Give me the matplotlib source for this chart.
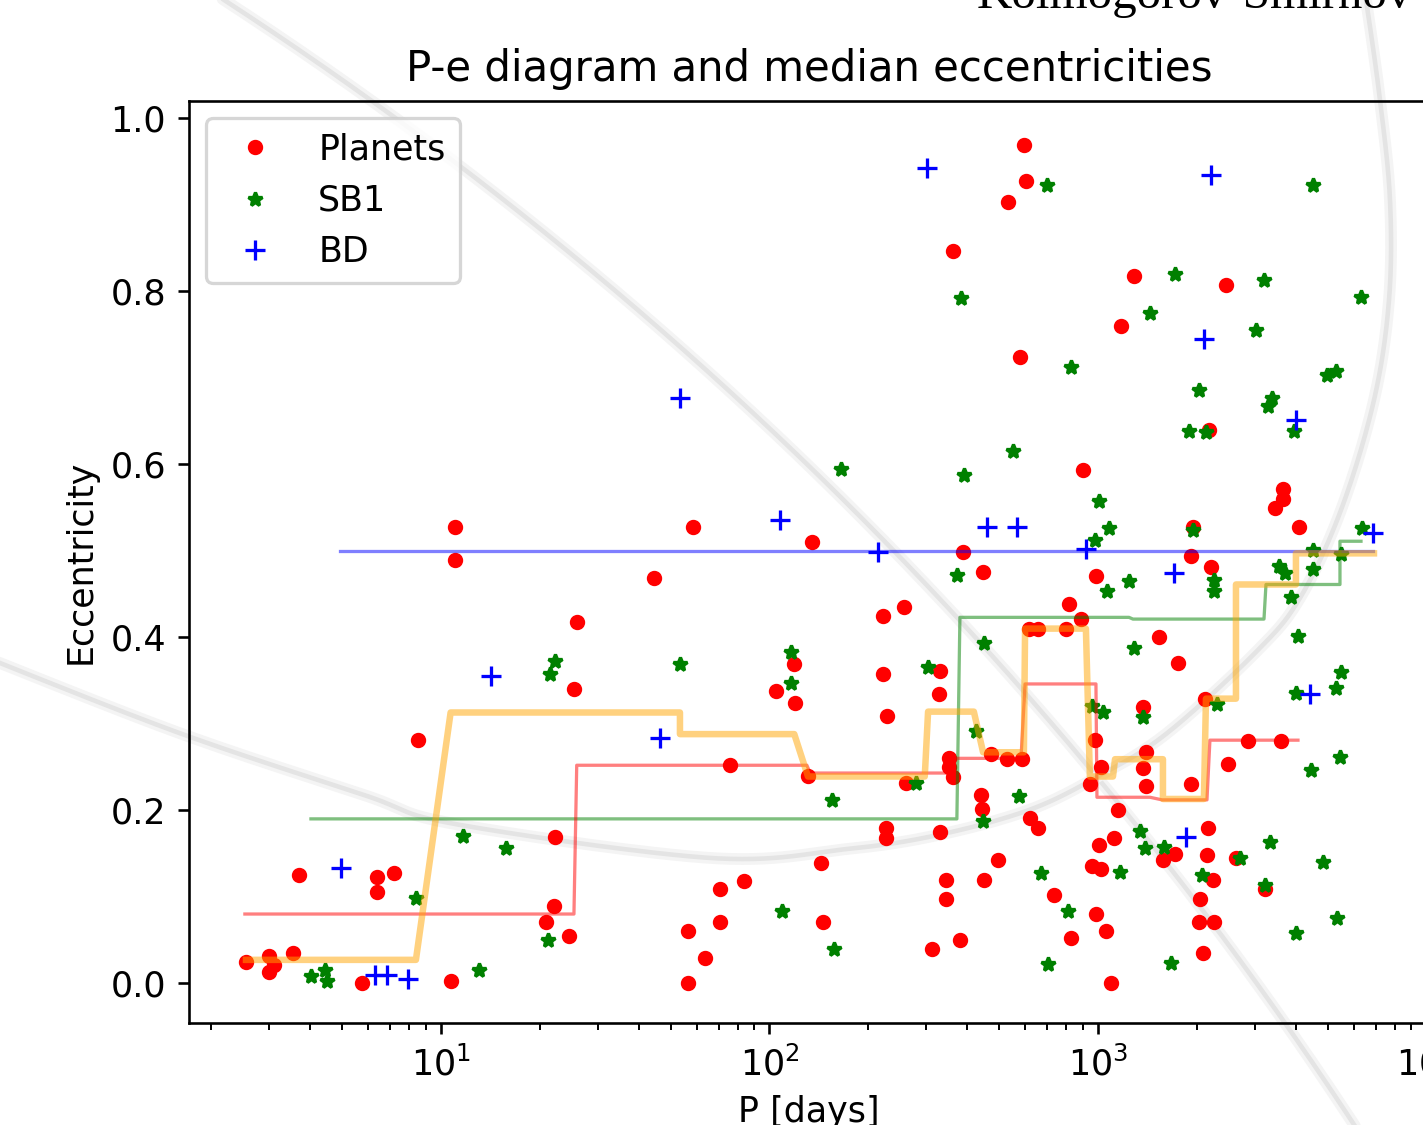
"""P-e diagram of planets, SB1 and brown dwarfs with running median eccentricities."""

import matplotlib
matplotlib.use("Agg")
import matplotlib.pyplot as plt
import numpy as np

DPI = 235
W_PX, H_PX = 1423, 1125

plt.rcParams["font.size"] = 10.7

# ---------------------------------------------------------------------------
# Data: period P [days] and eccentricity e
# ---------------------------------------------------------------------------

planets_P = [2.55, 2.99, 2.99, 3.10, 3.54, 3.70, 5.75, 6.39, 6.39, 7.19,
             8.51, 10.7, 11.0, 11.0, 20.9, 22.1, 22.2, 24.5, 25.4, 25.9,
             44.5, 56.5, 56.5, 58.5, 63.6, 70.7, 70.7, 75.8, 83.6, 105,
             119, 120, 131, 135, 144, 146, 222, 257, 222, 228,
             226, 226, 260, 312, 330, 328, 330, 344, 344, 352,
             352, 362, 362, 380, 388, 447, 440, 443, 450, 472,
             496, 528, 532, 579, 587, 595, 604, 617, 657, 621,
             657, 735, 799, 816, 828, 888, 900, 945, 979, 986,
             986, 1007, 1021, 959, 1021, 1058, 1095, 1119, 1151, 1175,
             1287, 1371, 1400, 1371, 1400, 1534, 1577, 1716, 1752, 1919,
             1946, 1919, 2029, 2044, 2087, 2117, 2162, 2147, 2177, 2208,
             2239, 2255, 2453, 2488, 2631, 2862, 3224, 3458, 3658, 3658,
             3607, 4091]
planets_e = [0.024, 0.032, 0.013, 0.021, 0.035, 0.125, 0.0, 0.123, 0.106, 0.128,
             0.281, 0.002, 0.528, 0.489, 0.071, 0.089, 0.169, 0.055, 0.340, 0.418,
             0.468, 0.060, 0.0, 0.528, 0.029, 0.109, 0.071, 0.252, 0.118, 0.338,
             0.369, 0.324, 0.239, 0.510, 0.139, 0.071, 0.424, 0.435, 0.358, 0.309,
             0.180, 0.168, 0.232, 0.039, 0.361, 0.334, 0.175, 0.119, 0.097, 0.260,
             0.250, 0.238, 0.846, 0.050, 0.499, 0.475, 0.218, 0.202, 0.119, 0.265,
             0.143, 0.259, 0.903, 0.724, 0.259, 0.969, 0.928, 0.409, 0.409, 0.191,
             0.179, 0.102, 0.409, 0.439, 0.052, 0.421, 0.593, 0.230, 0.281, 0.471,
             0.080, 0.160, 0.250, 0.136, 0.132, 0.060, 0.0, 0.168, 0.200, 0.760,
             0.818, 0.319, 0.267, 0.249, 0.228, 0.400, 0.143, 0.149, 0.370, 0.230,
             0.528, 0.494, 0.071, 0.097, 0.035, 0.329, 0.179, 0.148, 0.640, 0.481,
             0.119, 0.071, 0.807, 0.253, 0.145, 0.280, 0.109, 0.549, 0.560, 0.571,
             0.280, 0.528]

sb1_P = [4.02, 4.44, 4.50, 8.39, 11.7, 13.1, 15.8, 21.2, 21.5, 22.2,
         53.4, 109, 116, 116, 155, 157, 165, 279, 304, 372,
         383, 391, 425, 447, 450, 551, 575, 671, 699, 704,
         810, 828, 959, 1036, 979, 1007, 1080, 1065, 1243, 1287,
         1343, 1391, 1371, 1440, 1167, 1588, 1668, 1716, 1892, 2029,
         1946, 2073, 2132, 2255, 2255, 2303, 2706, 3027, 3202, 3224,
         3293, 3386, 3339, 3556, 3709, 3868, 3951, 4063, 4006, 4006,
         4449, 4512, 4512, 4512, 4841, 4979, 5303, 5303, 5340, 5454,
         5492, 5492, 6320, 6365]
sb1_e = [0.008, 0.015, 0.002, 0.099, 0.170, 0.015, 0.156, 0.050, 0.358, 0.373,
         0.369, 0.084, 0.383, 0.347, 0.212, 0.039, 0.595, 0.232, 0.366, 0.472,
         0.792, 0.588, 0.292, 0.188, 0.393, 0.615, 0.216, 0.128, 0.923, 0.022,
         0.084, 0.713, 0.320, 0.313, 0.512, 0.557, 0.526, 0.453, 0.465, 0.388,
         0.176, 0.156, 0.308, 0.775, 0.129, 0.157, 0.023, 0.820, 0.638, 0.686,
         0.524, 0.125, 0.637, 0.466, 0.454, 0.323, 0.145, 0.755, 0.813, 0.114,
         0.667, 0.677, 0.163, 0.482, 0.474, 0.447, 0.638, 0.401, 0.336, 0.058,
         0.246, 0.923, 0.501, 0.479, 0.140, 0.703, 0.708, 0.341, 0.075, 0.262,
         0.360, 0.496, 0.793, 0.526]

bd_P = [4.96, 6.30, 6.85, 7.93, 14.2, 46.4, 53.4, 108, 214, 302,
        459, 567, 919, 1704, 1853, 2102, 2208, 4006, 4418, 6872]
bd_e = [0.133, 0.009, 0.010, 0.005, 0.355, 0.284, 0.677, 0.536, 0.498, 0.942,
        0.528, 0.528, 0.502, 0.474, 0.169, 0.745, 0.935, 0.651, 0.334, 0.520]

# running medians (vertices of the step curves)
all_med_P = [2.55, 8.39, 10.7, 53.4, 53.4, 119, 131, 297, 304, 419, 447, 595, 600,
             919, 945, 1111, 1127, 1577, 1577, 2102, 2132, 2631, 2631, 4006, 4006, 6921]
all_med_e = [0.027, 0.027, 0.313, 0.313, 0.288, 0.288, 0.239, 0.239, 0.314, 0.314,
             0.267, 0.267, 0.410, 0.410, 0.239, 0.239, 0.259, 0.259, 0.213, 0.213,
             0.329, 0.329, 0.461, 0.461, 0.497, 0.497]

pl_med_P = [2.53, 25.4, 25.9, 130, 133, 347, 372, 583, 600, 986, 993, 1440,
            1566, 2147, 2192, 4063]
pl_med_e = [0.080, 0.080, 0.252, 0.252, 0.243, 0.243, 0.260, 0.260, 0.346, 0.346,
            0.215, 0.215, 0.212, 0.212, 0.281, 0.281]

sb1_med_P = [4.02, 372, 380, 1243, 1278, 3202, 3247, 5454, 5454, 6320]
sb1_med_e = [0.190, 0.190, 0.423, 0.423, 0.421, 0.421, 0.461, 0.461, 0.511, 0.511]

bd_med_P = [4.93, 6872]
bd_med_e = [0.5, 0.5]


# ---------------------------------------------------------------------------
# Faint background arcs (page watermark), in figure pixel coordinates
# ---------------------------------------------------------------------------

def smooth_curve(pts, n=30):
    """Catmull-Rom spline through a list of (x, y) points."""
    pts = np.asarray(pts, float)
    pts = np.vstack([pts[0], pts, pts[-1]])
    t = np.linspace(0, 1, n)[:, None]
    out = []
    for i in range(1, len(pts) - 2):
        p0, p1, p2, p3 = pts[i - 1], pts[i], pts[i + 1], pts[i + 2]
        seg = 0.5 * (2 * p1 + (-p0 + p2) * t
                     + (2 * p0 - 5 * p1 + 4 * p2 - p3) * t ** 2
                     + (-p0 + 3 * p1 - 3 * p2 + p3) * t ** 3)
        out.append(seg)
    return np.vstack(out)


def draw_watermark(fig):
    bg = fig.add_axes([0, 0, 1, 1], zorder=0)
    bg.set_xlim(0, W_PX)
    bg.set_ylim(H_PX, 0)
    bg.axis("off")

    # big diagonal arc
    t = np.radians(np.linspace(-58, -31, 300))
    arc_x = -1894 + 3886 * np.cos(t)
    arc_y = 3258 + 3886 * np.sin(t)

    # lower sweep rising on the right
    sweep = smooth_curve([(-30, 650), (0, 663), (182, 734), (364, 795), (455, 824),
                          (711, 858), (847, 849), (938, 835), (1029, 810),
                          (1097, 777), (1166, 734), (1256, 652), (1300, 598),
                          (1341, 510), (1374, 400), (1389, 300), (1390, 200),
                          (1380, 100), (1366, 0), (1360, -30)])

    for xs, ys in [(arc_x, arc_y), (sweep[:, 0], sweep[:, 1])]:
        bg.plot(xs, ys, color="#f4f4f4", lw=3.6, solid_capstyle="round")
        bg.plot(xs, ys, color="#e4e4e4", lw=1.4, solid_capstyle="round")


# ---------------------------------------------------------------------------
# Plot
# ---------------------------------------------------------------------------

fig = plt.figure(figsize=(W_PX / DPI, H_PX / DPI), dpi=DPI)
draw_watermark(fig)

fig.text(977 / W_PX, 1 - 8.5 / H_PX, "Kolmogorov-Smirnov",
         family="Liberation Serif", fontsize=15, va="baseline", ha="left")

ax = fig.add_axes([189 / W_PX, 1 - 1023 / H_PX, 1240 / W_PX, 922 / H_PX], zorder=1)
ax.patch.set_visible(False)

ax.plot(planets_P, planets_e, "ro", ms=3.7, label="Planets")
ax.plot(sb1_P, sb1_e, "g*", ms=4.4, label="SB1")
ax.plot(bd_P, bd_e, "b+", ms=6.0, label="BD")

ax.plot(bd_med_P, bd_med_e, "b-", lw=1.0, alpha=0.5)
ax.plot(sb1_med_P, sb1_med_e, "g-", lw=1.0, alpha=0.5)
ax.plot(pl_med_P, pl_med_e, "r-", lw=1.0, alpha=0.5)
ax.plot(all_med_P, all_med_e, color="orange", lw=2.0, alpha=0.5)

ax.set_xscale("log")
ax.set_xlim(1.71, 1.018e4)
ax.set_ylim(-0.046, 1.020)
ax.set_title("P-e diagram and median eccentricities")
ax.set_xlabel("P [days]")
ax.set_ylabel("Eccentricity")
ax.legend(loc="upper left")

fig.savefig("out.png", dpi=DPI)
